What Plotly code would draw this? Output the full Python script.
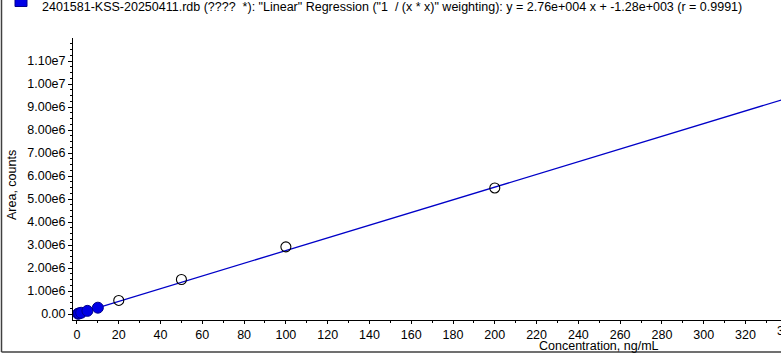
import plotly.graph_objects as go

# ---- data ----
used_conc = [0.5, 1, 2, 5, 10]
used_area = [12500, 26000, 54000, 137000, 275000]
excl_conc = [20, 50, 100, 200]
excl_area = [590000, 1500000, 2920000, 5480000]
slope = 2.76e4
intercept = -1.28e3
line_x = [0, 360]
line_y = [slope * v + intercept for v in line_x]

xtick_vals = list(range(0, 341, 20))
ytick_vals = [0, 1e6, 2e6, 3e6, 4e6, 5e6, 6e6, 7e6, 8e6, 9e6, 1e7, 1.1e7]
ytick_text = ["0.00", "1.00e6", "2.00e6", "3.00e6", "4.00e6", "5.00e6",
              "6.00e6", "7.00e6", "8.00e6", "9.00e6", "1.00e7", "1.10e7"]
title_text = ('2401581-KSS-20250411.rdb (????  *): "Linear" Regression ("1  / (x * x)" '
              'weighting): y = 2.76e+004 x + -1.28e+003 (r = 0.9991)')

W, H = 781, 354
ML, MR, MT, MB = 73, 0, 38, 34
PW = W - ML - MR
PH = H - MT - MB
X_MIN, X_MAX = -1.9, 337.0

def px(xp):
    return (xp - ML) / PW

def py(yp):
    return (H - MB - yp) / PH

def xdata_to_paper(v):
    return (v - X_MIN) / (X_MAX - X_MIN)

font = dict(family="Liberation Sans, Arial, sans-serif", size=12.5, color="black")

fig = go.Figure()
fig.add_trace(go.Scatter(x=line_x, y=line_y, mode="lines",
                         line=dict(color="#0000c8", width=1.3), hoverinfo="skip"))
fig.add_trace(go.Scatter(x=excl_conc, y=excl_area, mode="markers",
                         marker=dict(symbol="circle-open", size=10, color="black",
                                     line=dict(width=1.1, color="black"))))
fig.add_trace(go.Scatter(x=used_conc, y=used_area, mode="markers",
                         marker=dict(symbol="circle", size=11, color="#0000e6",
                                     line=dict(width=1, color="#00008a"))))

fig.update_layout(
    width=W, height=H, margin=dict(l=ML, r=MR, t=MT, b=MB, autoexpand=False),
    paper_bgcolor="white", plot_bgcolor="white", showlegend=False, font=font,
    xaxis=dict(range=[X_MIN, X_MAX], tickvals=xtick_vals, showgrid=False, zeroline=False,
               showline=True, linecolor="black", linewidth=1, ticks="outside",
               ticklen=3, tickcolor="black", tickfont=font,
               minor=dict(dtick=10, ticks="outside", ticklen=2, tickcolor="black")),
    yaxis=dict(range=[-0.26e6, 12.0e6], tickvals=ytick_vals, ticktext=ytick_text,
               showgrid=False, zeroline=False, showline=True, linecolor="black",
               linewidth=1, ticks="outside", ticklen=4, tickcolor="black", tickfont=font,
               minor=dict(tickvals=[v * 0.25e6 for v in range(0, 48)], ticks="outside",
                          ticklen=2, tickcolor="black")),
)

# partially visible last tick label (cut by the right edge, as in the reference)
fig.add_annotation(text="340", xref="paper", yref="paper",
                   x=xdata_to_paper(340), y=py(331), showarrow=False, font=font,
                   xanchor="center", yanchor="middle")

# titles
fig.add_annotation(text="Concentration, ng/mL", xref="paper", yref="paper",
                   x=px(599), y=py(346), showarrow=False, font=font,
                   xanchor="center", yanchor="middle")
fig.add_annotation(text="Area, counts", xref="paper", yref="paper",
                   x=px(12), y=py(185), showarrow=False, font=font, textangle=-90,
                   xanchor="center", yanchor="middle")
fig.add_annotation(text=title_text, xref="paper", yref="paper",
                   x=px(40), y=py(7), showarrow=False, font=font,
                   xanchor="left", yanchor="middle")

# legend swatch
fig.add_shape(type="rect", xref="paper", yref="paper",
              x0=px(15), x1=px(27), y0=py(6.5), y1=py(-5),
              fillcolor="#0000e6", line=dict(color="#00008a", width=1))
# outer frame (left and bottom visible)
fig.add_shape(type="line", xref="paper", yref="paper",
              x0=px(1.5), x1=px(1.5), y0=py(0), y1=py(352),
              line=dict(color="#404040", width=1.5))
fig.add_shape(type="line", xref="paper", yref="paper",
              x0=px(1.5), x1=px(781), y0=py(352), y1=py(352),
              line=dict(color="#404040", width=1.5))

fig.write_html("out.html")
